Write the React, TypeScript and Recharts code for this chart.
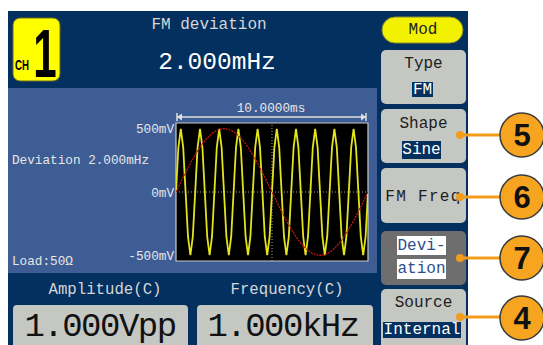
import { LineChart, Line, XAxis, YAxis, ReferenceLine, ReferenceArea } from "recharts";

// carrier trace, read every 0.125 ms (mV)
const carrierStepMs = 0.125;
const carrierMv = [
  0, 350, 495, 350, 0, -350, -495, -350,
  0, 350, 495, 350, 0, -350, -495, -350,
  0, 350, 495, 350, 0, -350, -495, -350,
  0, 350, 495, 350, 0, -350, -495, -350,
  0, 350, 495, 350, 0, -350, -495, -350,
  0, 350, 495, 350, 0, -350, -495, -350,
  0, 350, 495, 350, 0, -350, -495, -350,
  0, 350, 495, 350, 0, -350, -495, -350,
  0, 350, 495, 350, 0, -350, -495, -350,
  0, 350, 495, 350, 0, -350, -495, -350,
  0,
];

// modulating sine, read every 0.5 ms (mV)
const modStepMs = 0.5;
const modMv = [
  0, 153, 291, 400, 471, 495, 471, 400, 291, 153,
  0, -153, -291, -400, -471, -495, -471, -400, -291, -153, 0,
];

const timeDomain = [0, 10];
const voltDomain = [-540, 540];
const voltTicks = [-500, 0, 500];
const spanLabel = "10.0000ms";

const NAVY = "#03305f";
const PANEL = "#3f5d95";
const KEY = "#c5c7c3";
const MONO = "'Liberation Mono', 'DejaVu Sans Mono', monospace";

const carrierData = carrierMv.map((v, i) => ({ t: i * carrierStepMs, v }));
const modData = modMv.map((v, i) => ({ t: i * modStepMs, v }));

type TxtProps = {
  x: number;
  y: number;
  size?: number;
  fill?: string;
  anchor?: "start" | "middle" | "end";
  children: React.ReactNode;
};

function Txt({ x, y, size = 16, fill = "#202020", anchor = "middle", children }: TxtProps) {
  return (
    <text x={x} y={y} fontSize={size} fill={fill} textAnchor={anchor} dominantBaseline="central" fontFamily={MONO}>
      {children}
    </text>
  );
}

function Callout({ n, y, dotY }: { n: string; y: number; dotY: number }) {
  return (
    <g>
      <line x1={460} y1={dotY} x2={505} y2={dotY} stroke="#f39c1a" strokeWidth={3} />
      <circle cx={460} cy={dotY} r={4} fill="#f39c1a" />
      <circle cx={522} cy={y} r={22} fill="#f7a521" stroke="#3a3a3a" strokeWidth={1.5} />
      <text
        x={522}
        y={y + 11}
        fontSize={31}
        fontWeight="bold"
        textAnchor="middle"
        fontFamily="'Liberation Sans', Arial, sans-serif"
        fill="#111"
      >
        {n}
      </text>
    </g>
  );
}

function Screen() {
  return (
    <svg width={543} height={345} style={{ position: "absolute", left: 0, top: 0 }}>
      <rect x={0} y={0} width={543} height={345} fill="#fff" />
      <rect x={8} y={11} width={460} height={334} fill={NAVY} />
      <rect x={8} y={88} width={369} height={185} fill={PANEL} />

      {/* CH1 badge */}
      <rect x={13} y={18} width={47} height={63} rx={7} fill="#ffff00" stroke="#6b6b20" strokeWidth={1} />
      <text
        x={15}
        y={70}
        fontSize={15}
        fontWeight="bold"
        textLength={14}
        lengthAdjust="spacingAndGlyphs"
        fontFamily="'Liberation Sans Narrow', 'Liberation Sans', Arial, sans-serif"
        fill="#000"
      >
        CH
      </text>
      <text
        transform="translate(45,77) scale(0.62,1)"
        fontSize={68}
        fontWeight="bold"
        textAnchor="middle"
        fontFamily="'Liberation Sans', Arial, sans-serif"
        fill="#000"
      >
        1
      </text>

      <Txt x={209} y={25} size={16} fill="#d6d6d6">FM deviation</Txt>
      <Txt x={217} y={62} size={24.5} fill="#ffffff">2.000mHz</Txt>

      <Txt x={12} y={160} size={12.7} fill="#e6e6e6" anchor="start">Deviation 2.000mHz</Txt>
      <Txt x={12} y={261} size={12.7} fill="#e6e6e6" anchor="start">Load:50Ω</Txt>

      {/* time span marker */}
      <Txt x={271} y={108} size={12.7} fill="#e6e6e6">{spanLabel}</Txt>
      <line x1={177} y1={117} x2={366} y2={117} stroke="#e0e0e0" strokeWidth={1.5} />
      <line x1={177} y1={113} x2={177} y2={121} stroke="#e0e0e0" strokeWidth={1.5} />
      <line x1={366} y1={113} x2={366} y2={121} stroke="#e0e0e0" strokeWidth={1.5} />
      <polygon points="177,117 182,113.5 182,120.5" fill="#e0e0e0" />
      <polygon points="366,117 361,113.5 361,120.5" fill="#e0e0e0" />

      {/* bottom readouts */}
      <Txt x={105} y={290} size={15.7} fill="#d6d6d6">Amplitude(C)</Txt>
      <Txt x={287} y={290} size={15.7} fill="#d6d6d6">Frequency(C)</Txt>
      <rect x={13} y={305} width={175} height={50} rx={4} fill={KEY} />
      <rect x={197} y={305} width={176} height={50} rx={4} fill={KEY} />
      <text x={100} y={336} fontSize={34} letterSpacing={-1.5} textAnchor="middle" fontFamily={MONO} fill="#111">
        1.000Vpp
      </text>
      <text x={283} y={336} fontSize={34} letterSpacing={-1.5} textAnchor="middle" fontFamily={MONO} fill="#111">
        1.000kHz
      </text>

      {/* soft keys */}
      <rect x={382} y={17} width={81} height={26} rx={13} fill="#f2f200" stroke="#8a8a30" strokeWidth={1} />
      <Txt x={423} y={30}>Mod</Txt>

      <rect x={381} y={50} width={85} height={54} rx={5} fill={KEY} />
      <Txt x={423.5} y={64}>Type</Txt>
      <rect x={412} y={82} width={21} height={15} fill={NAVY} />
      <Txt x={422.5} y={89.5} fill="#ffffff">FM</Txt>

      <rect x={381} y={109} width={85} height={54} rx={5} fill={KEY} />
      <Txt x={423.5} y={124}>Shape</Txt>
      <rect x={402} y={141} width={39} height={18} fill={NAVY} />
      <Txt x={421.5} y={150} fill="#ffffff">Sine</Txt>

      <rect x={381} y={168} width={85} height={55} rx={5} fill={KEY} />
      <text x={423.5} y={197} fontSize={16} letterSpacing={1.3} textAnchor="middle" dominantBaseline="central" fontFamily={MONO} fill="#202020">
        FM Freq
      </text>

      <rect x={381} y={231} width={85} height={54} rx={5} fill="#6e6e6e" />
      <rect x={397} y={236} width={49} height={19} fill="#ffffff" />
      <Txt x={421.5} y={245.5} fill="#2c4f8c">Devi-</Txt>
      <rect x={397} y={259} width={49} height={20} fill="#ffffff" />
      <Txt x={421.5} y={269} fill="#2c4f8c">ation</Txt>

      <rect x={381} y={289} width={85} height={62} rx={5} fill={KEY} />
      <Txt x={423.5} y={303}>Source</Txt>
      <rect x={383} y={322} width={78} height={16} fill={NAVY} />
      <Txt x={422} y={330} fill="#ffffff">Internal</Txt>

      <Callout n="5" y={135} dotY={135} />
      <Callout n="6" y={197} dotY={197} />
      <Callout n="7" y={258} dotY={258} />
      <Callout n="4" y={318} dotY={317} />
    </svg>
  );
}

export default function App() {
  return (
    <div style={{ position: "absolute", left: 0, top: 0, width: 543, height: 345, overflow: "hidden" }}>
      <Screen />
      <LineChart
        width={253}
        height={170}
        margin={{ top: 28, right: 5, bottom: 4, left: 0 }}
        style={{ position: "absolute", left: 120, top: 95 }}
      >
        <XAxis type="number" dataKey="t" domain={timeDomain} allowDataOverflow hide />
        <YAxis
          type="number"
          domain={voltDomain}
          ticks={voltTicks}
          interval={0}
          allowDataOverflow
          width={56}
          axisLine={false}
          tickLine={false}
          tickSize={2}
          tickMargin={0}
          tickFormatter={(v: number) => `${v}mV`}
          tick={{ fontSize: 12.7, fill: "#e6e6e6", fontFamily: MONO }}
        />
        <ReferenceArea
          x1={timeDomain[0]}
          x2={timeDomain[1]}
          y1={voltDomain[0]}
          y2={voltDomain[1]}
          fill="#000000"
          fillOpacity={1}
          stroke="#c8c8c8"
          strokeWidth={1.2}
        />
        <ReferenceLine y={0} stroke="#a0a0a0" strokeDasharray="1 2" />
        <ReferenceLine x={5} stroke="#a0a0a0" strokeDasharray="1 2" />
        <Line
          data={carrierData}
          dataKey="v"
          type="linear"
          stroke="#e4e41c"
          strokeWidth={1.8}
          dot={false}
          isAnimationActive={false}
        />
        <Line
          data={modData}
          dataKey="v"
          type="monotone"
          stroke="#c81414"
          strokeWidth={1.3}
          strokeDasharray="2 1"
          dot={false}
          isAnimationActive={false}
        />
      </LineChart>
    </div>
  );
}
